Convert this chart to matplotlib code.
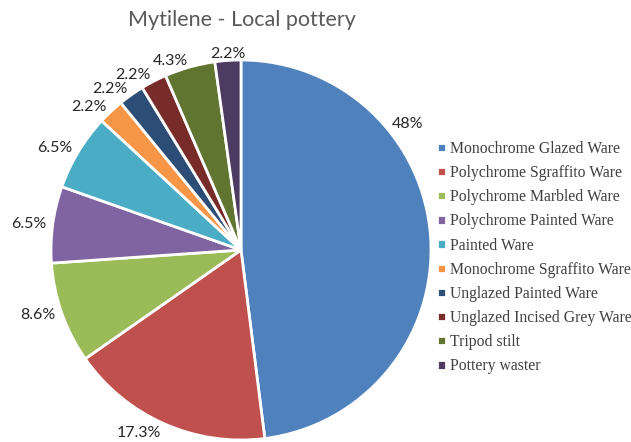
import numpy as np
import matplotlib
matplotlib.use("Agg")
import matplotlib.pyplot as plt

categories = ["Monochrome Glazed Ware", "Polychrome Sgraffito Ware", "Polychrome Marbled Ware",
              "Polychrome Painted Ware", "Painted Ware", "Monochrome Sgraffito Ware",
              "Unglazed Painted Ware", "Unglazed Incised Grey Ware", "Tripod stilt", "Pottery waster"]
values = [48.0, 17.3, 8.6, 6.5, 6.5, 2.2, 2.2, 2.2, 4.3, 2.2]
pct_labels = ["48%", "17.3%", "8.6%", "6.5%", "6.5%", "2.2%", "2.2%", "2.2%", "4.3%", "2.2%"]
colors = ["#4F81BD", "#C0504D", "#9BBB59", "#8064A2", "#4BACC6", "#F79646",
          "#2C4D75", "#772C2A", "#5F7530", "#4D3B62"]

fig = plt.figure(figsize=(6.31, 4.42), dpi=100)
ax = fig.add_axes([51/631, 2/442, 380/631, 380/442])
wedges, texts = ax.pie(values, colors=colors, labels=pct_labels, startangle=90, counterclock=False,
                       labeldistance=1.035, radius=1.0,
                       wedgeprops=dict(edgecolor="white", linewidth=2),
                       textprops=dict(family="Lato", fontsize=11.5, color="#262626"))
ax.set_xlim(-1, 1)
ax.set_ylim(-1, 1)
ax.set_aspect("equal")

# Excel best-fit moves the largest label up the rim
ang = np.deg2rad(39.8)
texts[0].set_position((1.035 * np.cos(ang), 1.035 * np.sin(ang)))
texts[0].set_ha("left")
x1, y1 = texts[1].get_position()
texts[1].set_position((x1, -0.962))
# top label centered
texts[-1].set_ha("center")

fig.text(242/631, 1 - 20/442, "Mytilene - Local pottery", ha="center", va="center",
         family="Lato", fontsize=15.5, color="#595959")

leg = fig.legend(wedges, categories, loc="upper left", bbox_to_anchor=(437/631, 1 - 141/442),
                 frameon=False, prop=dict(family="Liberation Serif", size=11.3),
                 handlelength=0.55, handleheight=0.55, handletextpad=0.3, labelspacing=0.52,
                 borderaxespad=0, borderpad=0)
for t in leg.get_texts():
    t.set_color("#404040")

fig.savefig("out.png", dpi=100)
